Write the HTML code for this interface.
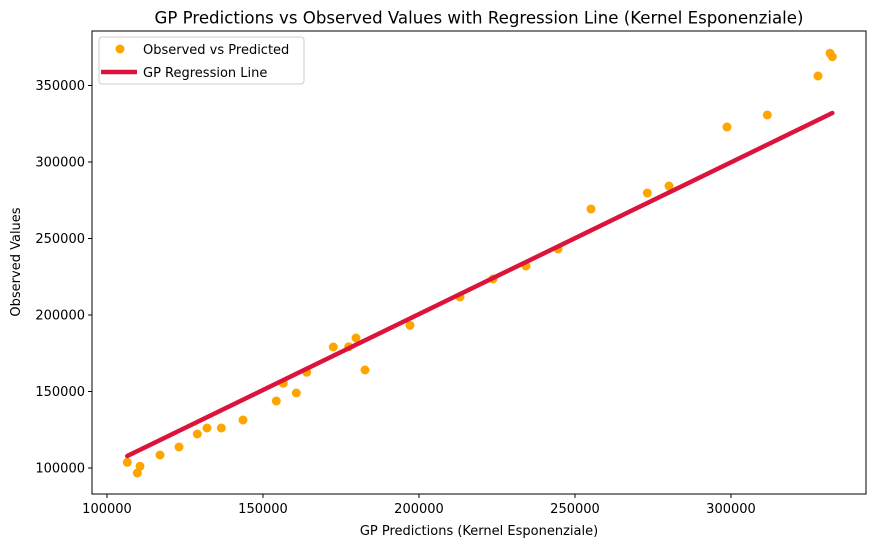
<!DOCTYPE html>
<html><head><meta charset="utf-8"><style>
body{margin:0;background:#fff;}
svg{display:block;font-family:"DejaVu Sans","Liberation Sans",sans-serif;}
</style></head><body>
<svg id="chart" width="876" height="547"></svg>
<script>
const predictions=[106506,110577,109711,116987,123077,128942,132051,136635,143590,154263,160673,156506,164006,172532,177468,179808,182692,197115,213141,223718,234295,244551,255128,273173,280128,298718,311635,327885,331731,332468];
const observed=[103726,101111,96732,108497,113726,122222,126144,126144,131373,143791,149020,155360,162549,179085,179281,184967,164052,193268,211765,223529,232026,243137,269281,279739,284314,322876,330719,356209,371046,368824];
const xTicks=[100000,150000,200000,250000,300000];
const yTicks=[100000,150000,200000,250000,300000,350000];
const regSlope=0.992, regIntercept=2195;

const NS="http://www.w3.org/2000/svg";
const svg=document.getElementById('chart');
const L=92,T=31,R=866,B=494;
function xs(v){return 107+(v-100000)*156/50000;}
function ys(v){return 468-(v-100000)*76.5/50000;}
function mk(tag,attrs,parent){const e=document.createElementNS(NS,tag);for(const k in attrs)e.setAttribute(k,attrs[k]);(parent||svg).appendChild(e);return e;}

const plot=mk('g',{});



predictions.forEach((p,i)=>{
  const c=mk('circle',{cx:xs(p),cy:ys(observed[i]),r:4.5,fill:'#ffa500'},plot);
  
  
});
const xmin=Math.min(...predictions),xmax=Math.max(...predictions);
const line=mk('line',{x1:xs(xmin),y1:ys(regSlope*xmin+regIntercept),x2:xs(xmax),y2:ys(regSlope*xmax+regIntercept),stroke:'#dc143c','stroke-width':4.5,'stroke-linecap':'round'},plot);



const frame=mk('rect',{x:L,y:T,width:R-L,height:B-T,fill:'none',stroke:'#000','stroke-width':1});



xTicks.forEach(v=>{
  const x=xs(v);
  mk('line',{x1:x,y1:B,x2:x,y2:B+4,stroke:'#000'});
  const t=mk('text',{x:x,y:B+19,'text-anchor':'middle','font-size':13});
  t.textContent=v;
  
  
});
yTicks.forEach(v=>{
  const y=ys(v);
  mk('line',{x1:L-4,y1:y,x2:L,y2:y,stroke:'#000'});
  const t=mk('text',{x:L-7,y:y+4.5,'text-anchor':'end','font-size':13});
  t.textContent=v;
  
  
});
</script>
<svg width="876" height="547" style="position:absolute;left:0;top:0;font-family:'DejaVu Sans','Liberation Sans',sans-serif;">
  <text x="479" y="23.5" text-anchor="middle" font-size="16.6">GP Predictions vs Observed Values with Regression Line (Kernel Esponenziale)</text>
  <text x="479" y="535" text-anchor="middle" font-size="13">GP Predictions (Kernel Esponenziale)</text>
  <text x="20" y="262" text-anchor="middle" font-size="13" transform="rotate(-90 20 262)">Observed Values</text>
  <g>
    <rect x="99" y="37" width="205" height="47" rx="3" fill="#fff" fill-opacity="0.8" stroke="#ccc"/>
    <circle cx="120" cy="49" r="4.5" fill="#ffa500"/>
    <text x="143" y="54" font-size="13">Observed vs Predicted</text>
    <line x1="101" y1="72" x2="137" y2="72" stroke="#dc143c" stroke-width="4.5"/>
    <text x="143" y="77" font-size="13">GP Regression Line</text>
  </g>
</svg>
</body></html>
